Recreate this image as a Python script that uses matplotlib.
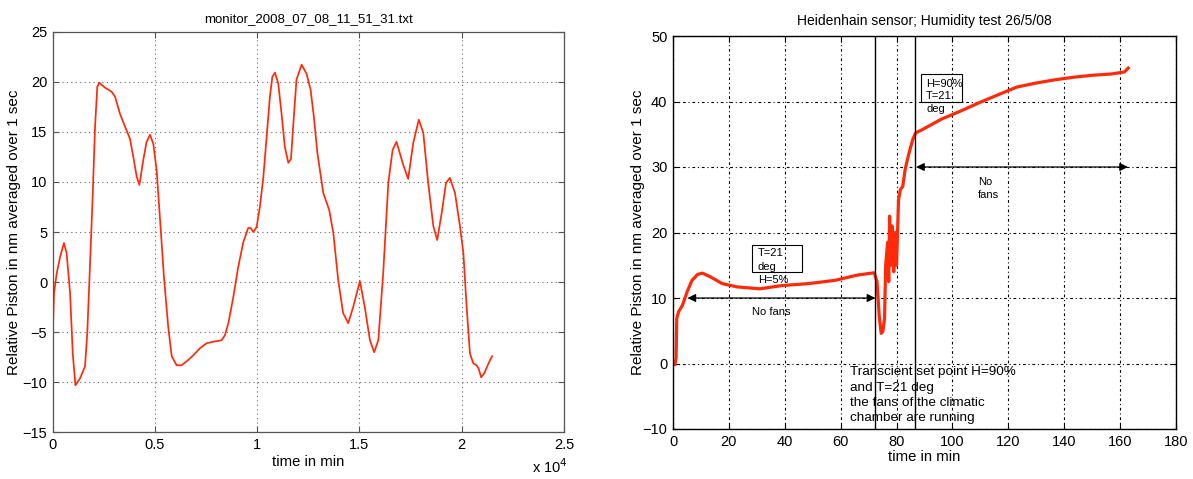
import matplotlib
matplotlib.use("Agg")
import matplotlib.pyplot as plt
from matplotlib.patches import Rectangle

plt.rcParams['font.family'] = ['Liberation Sans', 'DejaVu Sans']

# ---- Left chart data (time in units of 1e4 min) ----
left_title = "monitor_2008_07_08_11_51_31.txt"
left_t = [0.0, 0.0065, 0.0195, 0.036, 0.055, 0.068, 0.085, 0.098, 0.111, 0.134, 0.158,
          0.169, 0.182, 0.196, 0.207, 0.218, 0.228, 0.256, 0.288, 0.305, 0.329, 0.354,
          0.378, 0.394, 0.411, 0.424, 0.443, 0.459, 0.476, 0.492, 0.508, 0.525, 0.544,
          0.565, 0.582, 0.606, 0.63, 0.655, 0.688, 0.72, 0.753, 0.786, 0.826, 0.842,
          0.859, 0.883, 0.907, 0.932, 0.956, 0.968, 0.981, 0.997, 1.013, 1.03, 1.046,
          1.062, 1.074, 1.087, 1.103, 1.119, 1.135, 1.152, 1.165, 1.179, 1.192, 1.217,
          1.241, 1.261, 1.277, 1.294, 1.323, 1.352, 1.372, 1.396, 1.42, 1.445, 1.469,
          1.502, 1.526, 1.551, 1.572, 1.592, 1.616, 1.641, 1.662, 1.681, 1.714, 1.738,
          1.763, 1.79, 1.812, 1.836, 1.861, 1.88, 1.902, 1.923, 1.942, 1.967, 1.991,
          2.008, 2.024, 2.04, 2.056, 2.072, 2.082, 2.095, 2.11, 2.125, 2.138, 2.149]
left_piston = [-5.45, -1.1, 0.87, 2.5, 3.9, 2.9, -1.1, -7.1, -10.3, -9.6, -8.4,
               -5.1, 1.5, 8.9, 15.5, 19.5, 19.9, 19.4, 19.0, 18.5, 16.8, 15.5,
               14.3, 12.5, 10.5, 9.7, 12.2, 14.0, 14.7, 13.8, 11.2, 6.2, 0.5,
               -4.5, -7.4, -8.3, -8.3, -7.9, -7.3, -6.6, -6.1, -5.95, -5.8, -5.3,
               -4.1, -1.5, 1.5, 4.0, 5.4, 5.4, 5.0, 5.5, 7.5, 10.5, 14.5,
               18.5, 20.5, 20.9, 19.8, 16.8, 13.5, 11.9, 12.3, 16.5, 20.2, 21.7,
               20.8, 19.2, 16.5, 12.9, 8.9, 7.2, 4.9, 0.2, -3.1, -4.1, -2.5,
               0.1, -2.5, -5.8, -7.0, -5.8, 0.9, 9.9, 13.2, 14.0, 11.7, 10.3,
               13.9, 16.2, 14.9, 9.9, 5.6, 4.2, 6.9, 9.9, 10.4, 8.9, 5.6,
               2.9, -2.5, -7.1, -8.1, -8.3, -8.6, -9.5, -9.1, -8.4, -7.8, -7.4]
left_xticks = [0, 0.5, 1, 1.5, 2, 2.5]
left_xticklabels = ["0", "0.5", "1", "1.5", "2", "2.5"]
left_yticks = [-15, -10, -5, 0, 5, 10, 15, 20, 25]

# ---- Right chart data (time in min) ----
right_title = "Heidenhain sensor; Humidity test 26/5/08"
right_t = [0.7, 1.1, 1.35, 2.0, 3.4, 5.1, 6.8, 8.8, 10.5, 13.5, 17.6, 22.9, 31, 39, 48.6,
           58, 66, 72, 73, 73.8, 74.5, 75.1, 75.7, 76.1, 76.8, 77.2, 77.5, 77.9, 78.4, 79,
           79.4, 80, 80.7, 81.4, 82.2, 83.1, 84.5, 85.8, 86.8, 89.2, 96, 102.7, 109.5,
           116.2, 123, 129.7, 136.5, 143.2, 150, 156.8, 161.5, 162.9]
right_piston = [-0.15, 0.9, 6.9, 7.9, 8.9, 11.0, 12.7, 13.6, 13.8, 13.2, 12.2, 11.7, 11.4,
                11.9, 12.2, 12.7, 13.5, 13.85, 12.5, 7.2, 4.6, 4.9, 6.9, 15, 18.5, 12.5,
                22.5, 15, 21, 14, 20, 15, 25, 26.6, 27, 29.7, 32.2, 34.2, 35.2, 35.7, 37.3,
                38.5, 39.8, 41, 42.2, 42.8, 43.3, 43.7, 44, 44.2, 44.5, 45.1]
right_xticks = [0, 20, 40, 60, 80, 100, 120, 140, 160, 180]
right_yticks = [-10, 0, 10, 20, 30, 40, 50]
vlines_t = [72.4, 86.7]

ylabel = "Relative Piston in nm averaged over 1 sec"
xlabel = "time in min"
red = "#ff2a0a"

W, H = 1193, 479
fig = plt.figure(figsize=(W / 100, H / 100), dpi=100)


def box(x0, x1, ytop, ybot):
    return [x0 / W, 1 - ybot / H, (x1 - x0) / W, (ybot - ytop) / H]


axL = fig.add_axes(box(52.7, 564.0, 31.6, 432.4))
axR = fig.add_axes(box(673.0, 1176.0, 36.0, 429.0))

for ax in (axL, axR):
    ax.tick_params(direction="in", top=True, right=True, labelsize=10.5, length=4,
                   width=0.8, pad=4)

axL.grid(True, color="#666666", linestyle=(0, (1, 3)), linewidth=0.8)
axR.grid(True, color="black", linestyle=(0, (2.5, 2.5, 1, 2.5)), linewidth=0.8)
for s in axL.spines.values():
    s.set_linewidth(0.9)
    s.set_color("#555555")
axL.tick_params(colors="#555555", labelcolor="black")
for s in axR.spines.values():
    s.set_linewidth(1.0)
    s.set_color("black")

# Left
axL.plot(left_t, left_piston, color=red, lw=1.25, solid_joinstyle="round")
axL.set_xlim(0, 2.5)
axL.set_ylim(-15, 25)
axL.set_xticks(left_xticks)
axL.set_xticklabels(left_xticklabels)
axL.set_yticks(left_yticks)
axL.set_title(left_title, fontsize=9.5, pad=7)
axL.set_xlabel(xlabel, fontsize=10.7, labelpad=2)
axL.set_ylabel(ylabel, fontsize=11, labelpad=1)
axL.text(0.937, -0.086, "x 10$^{4}$", transform=axL.transAxes, fontsize=10.5,
         ha="left", va="center")

# Right
axR.plot(right_t, right_piston, color=red, lw=2.3, solid_joinstyle="round")
axR.set_xlim(0, 180)
axR.set_ylim(-10, 50)
axR.set_xticks(right_xticks)
axR.set_yticks(right_yticks)
axR.set_title(right_title, fontsize=10, pad=8)
axR.set_xlabel(xlabel, fontsize=10.7, labelpad=1)
axR.set_ylabel(ylabel, fontsize=11, labelpad=-2)
for v in vlines_t:
    axR.axvline(v, color="black", lw=1.0)

arrow_kw = dict(arrowstyle="<|-|>", color="black", lw=0.9, mutation_scale=12,
                shrinkA=0, shrinkB=0)
axR.annotate("", xy=(72.4, 10), xytext=(5.2, 10), arrowprops=arrow_kw)
axR.annotate("", xy=(162.8, 30), xytext=(87.0, 30), arrowprops=arrow_kw)

small = 8
axR.text(28.4, 7.8, "No fans", fontsize=small, ha="left", va="center")
axR.add_patch(Rectangle((28.4, 14.0), 17.8, 4.1, fill=False, ec="black", lw=0.8))
axR.text(30.4, 16.8, "T=21", fontsize=small, ha="left", va="center")
axR.text(30.4, 14.8, "deg", fontsize=small, ha="left", va="center")
axR.text(30.4, 12.8, "H=5%", fontsize=small, ha="left", va="center")

axR.add_patch(Rectangle((88.9, 39.9), 14.5, 4.3, fill=False, ec="black", lw=0.8))
axR.text(90.6, 42.7, "H=90%", fontsize=small, ha="left", va="center")
axR.text(90.6, 40.8, "T=21", fontsize=small, ha="left", va="center")
axR.text(90.6, 38.9, "deg", fontsize=small, ha="left", va="center")

axR.text(109.2, 27.7, "No", fontsize=small, ha="left", va="center")
axR.text(109.2, 25.8, "fans", fontsize=small, ha="left", va="center")

axR.text(63.2, -0.4, "Transcient set point H=90%\nand T=21 deg\nthe fans of the climatic\nchamber are running",
         fontsize=9.7, ha="left", va="top", linespacing=1.38)

fig.savefig("out.png", dpi=100)
